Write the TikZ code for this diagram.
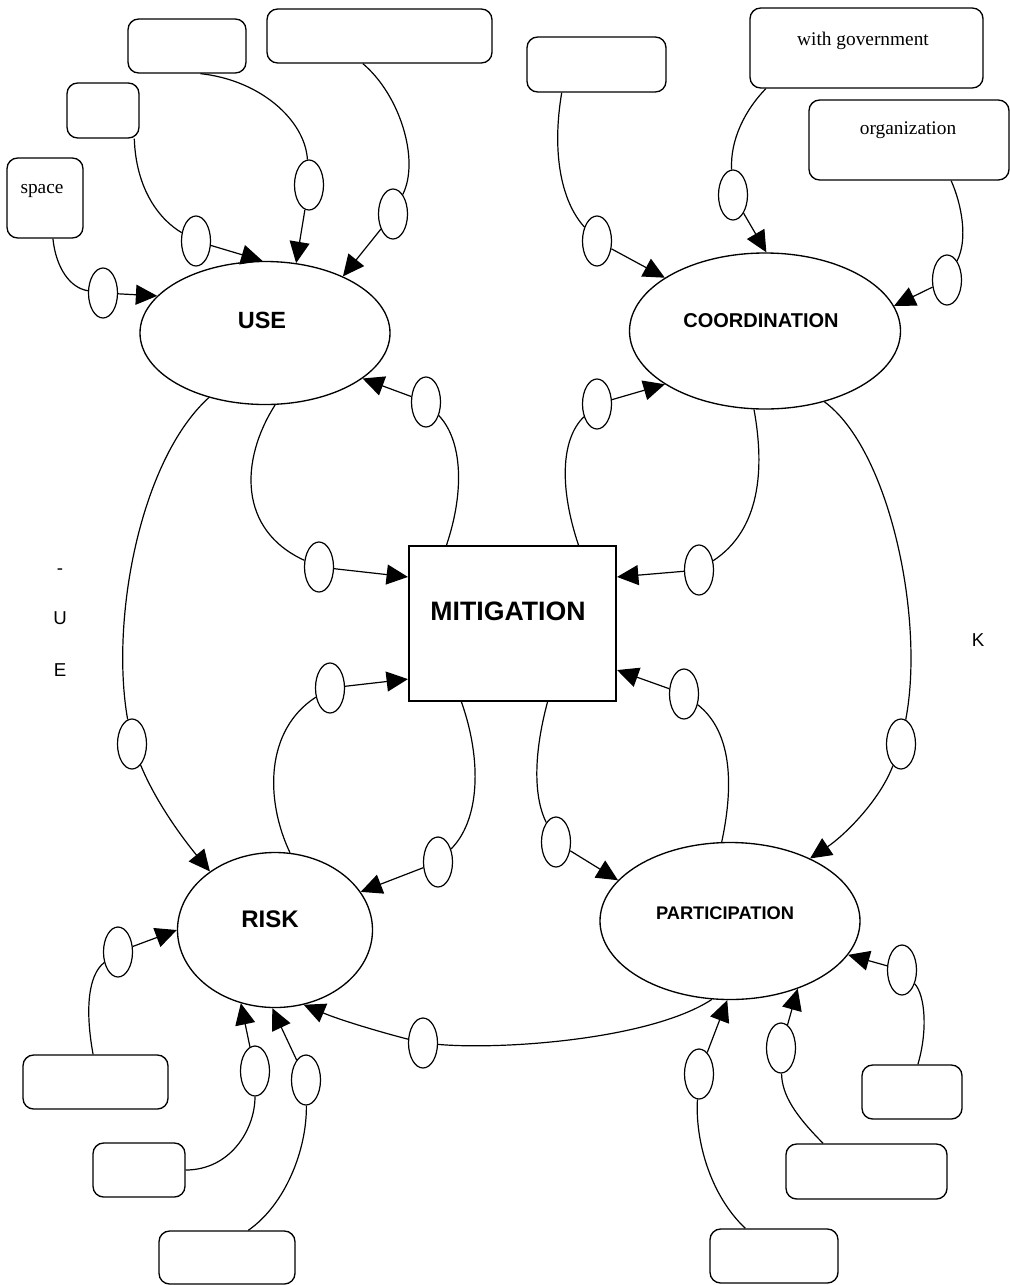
\documentclass[tikz,border=0pt]{standalone}
\usepackage{fontspec}
\setmainfont{Liberation Serif}
\setsansfont{Liberation Sans}
\usetikzlibrary{arrows.meta,shapes.geometric}

\begin{document}
\begin{tikzpicture}[x=0.75pt,y=-0.75pt,
        big/.style={draw,ellipse,line width=1pt,inner sep=0pt},
        knot/.style={draw,ellipse,line width=0.9pt,inner sep=0pt,minimum width=21.75pt,minimum height=37.5pt},
        tag/.style={draw,rectangle,rounded corners=8pt,line width=1pt,inner sep=0pt},
        link/.style={line width=0.9pt},
        arr/.style={-{Triangle[length=16pt,width=15pt]}},
        head/.style={font=\sffamily\bfseries\fontsize{#1}{#1}\selectfont,inner sep=0pt},
        txt/.style={font=\fontsize{14.5}{16}\selectfont,inner sep=0pt},
        side/.style={font=\sffamily\fontsize{14}{14}\selectfont,inner sep=0pt}]
        \useasboundingbox (0,0) rectangle (1010,1285);

        \node[big,minimum width=187.5pt,minimum height=107.25pt] (use) at (265,333) {};
        \node[big,minimum width=203.25pt,minimum height=117pt] (coord) at (765,331) {};
        \node[big,minimum width=146.25pt,minimum height=116.25pt] (risk) at (275,930) {};
        \node[big,minimum width=195pt,minimum height=117.75pt] (part) at (730,921) {};
        \node[draw,line width=1.6pt,minimum width=155.25pt,minimum height=116.25pt] (mit) at (512.5,623.5) {};

        \node[head=17.6] (useL) at (262,320) {USE};
        \node[head=15] (coordL) at (761,321) {COORDINATION};
        \node[head=20] (mitL) at (508,611) {MITIGATION};
        \node[head=18] (riskL) at (270,919) {RISK};
        \node[head=13.7] (partL) at (725,913) {PARTICIPATION};

        \node[tag,minimum width=57pt,minimum height=60pt] (bSpace) at (45,198) {};
        \node[tag,minimum width=54pt,minimum height=41.25pt] (bUse2) at (103,110.5) {};
        \node[tag,minimum width=88.5pt,minimum height=40.5pt] (bUse3) at (187,46) {};
        \node[tag,minimum width=168.75pt,minimum height=40.5pt] (bUse4) at (379.5,36) {};
        \node[tag,minimum width=104.25pt,minimum height=41.25pt] (bCo1) at (596.5,64.5) {};
        \node[tag,minimum width=174.75pt,minimum height=60pt] (bCo2) at (866.5,48) {};
        \node[tag,minimum width=150pt,minimum height=60pt] (bCo3) at (909,140) {};
        \node[tag,minimum width=108.75pt,minimum height=40.5pt] (bRi1) at (95.5,1082) {};
        \node[tag,minimum width=69pt,minimum height=40.5pt] (bRi2) at (139,1170) {};
        \node[tag,minimum width=102pt,minimum height=39.75pt] (bRi3) at (227,1257.5) {};
        \node[tag,minimum width=75pt,minimum height=40.5pt] (bPa1) at (912,1092) {};
        \node[tag,minimum width=120.75pt,minimum height=41.25pt] (bPa2) at (866.5,1171.5) {};
        \node[tag,minimum width=96pt,minimum height=40.5pt] (bPa3) at (774,1256) {};

        \node[txt] (spaceT) at (42,191) {space};
        \node[txt] (govT) at (863,40.5) {with government};
        \node[txt] (orgT) at (908,130) {organization};

        \node[side] (dashL) at (60,572) {-};
        \node[side] (uL) at (60,618) {U};
        \node[side] (eL) at (60,670) {E};
        \node[side] (kL) at (978,640) {K};

        \foreach \k/\x/\y in {k1/103/293,k2/196/241,k3/309/185,k4/393/214,k5/597/241,k6/733/195,
            k7/947/280,k8/319/567,k9/426/402,k10/597/404,k11/699/570,k12/132/744,k13/901/744,
            k14/330/688,k15/438/862,k16/684/694,k17/556/842,k18/423/1043,k19/118/952,
            k20/255/1071,k21/306/1080,k22/699/1074,k23/781/1048,k24/902/970}
            \node[knot] (\k) at (\x,\y) {};

        \foreach \s/\ax/\ay/\bx/\by/\k in {bSpace.-79/56/268/70/288/k1,
            bUse2.-42/136/190/160/220/k2,
            bUse3.-64/260/80/305/120/k3,
            bUse4.-121/400/95/420/160/k4,
            bCo1.-141/552/150/560/200/k5,
            bCo2.-158/745/110/730/140/k6,
            bCo3.-44/962/205/968/240/k7,
            use.-82/240/460/238/530/k8,
            mit.130/465/490/462/440/k9,
            mit.50/560/490/560/440/k10,
            coord.-98/765/470/760/530/k11,
            use.-131/140/460/110/620/k12,
            coord.-50/890/450/925/620/k13,
            risk.79/265/800/265/730/k14,
            mit.-123/482/760/480/820/k15,
            part.96/735/780/730/730/k16,
            mit.-66/532/760/535/800/k17,
            part.-103/650/1040/500/1050/k18,
            bRi1.95/85/1010/88/975/k19,
            bRi2.east/230/1170/255/1130/k20,
            bRi3.52/285/1205/307/1150/k21,
            bPa3.136/710/1195/695/1140/k22,
            bPa2.147/795/1115/782/1095/k23,
            bPa1.78/928/1030/925/995/k24}
            \draw[link] (\s) .. controls (\ax,\ay) and (\bx,\by) .. (\k);

        \foreach \k/\t in {k1/use.161,k2/use.92,k3/use.66,k4/use.36,k5/coord.152,k6/coord.89,
            k7/coord.11,k8/mit.156,k9/use.-25,k10/coord.-152,k11/mit.24,k14/mit.-152,
            k15/risk.24,k16/mit.-24,k17/part.160,k19/risk.180,k20/risk.-115,k21/risk.-92,
            k22/part.-92,k23/part.-45,k24/part.-16}
            \draw[link,arr] (\k) -- (\t);

        \draw[link,arr] (k12) .. controls (155,800) and (180,835) .. (risk.138);
        \draw[link,arr] (k13) .. controls (880,800) and (845,835) .. (part.38);
        \draw[link,arr] (k18) .. controls (380,1032) and (340,1020) .. (risk.-69);
    \end{tikzpicture}
\end{document}
